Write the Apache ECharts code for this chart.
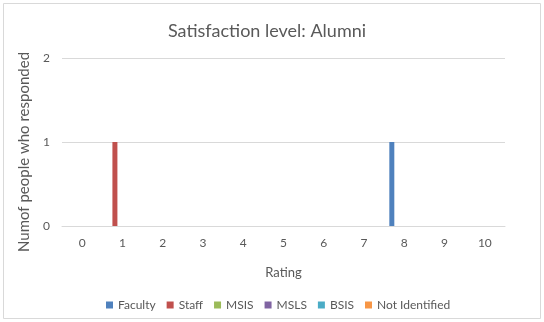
<!DOCTYPE html>
<html><head><meta charset="utf-8">
<script src="https://cdn.jsdelivr.net/npm/echarts@6/dist/echarts.min.js"></script>
<style>html,body{margin:0;padding:0;background:#fff}#c{width:544px;height:322px}</style>
</head><body><div id="c"></div>
<script>
const categories = ['0','1','2','3','4','5','6','7','8','9','10'];
const seriesNames = ['Faculty','Staff','MSIS','MSLS','BSIS','Not Identified'];
const faculty = [0,0,0,0,0,0,0,0,1,0,0];
const staff = [0,1,0,0,0,0,0,0,0,0,0];
const msis = [0,0,0,0,0,0,0,0,0,0,0];
const msls = [0,0,0,0,0,0,0,0,0,0,0];
const bsis = [0,0,0,0,0,0,0,0,0,0,0];
const notIdentified = [0,0,0,0,0,0,0,0,0,0,0];
const seriesData = [faculty, staff, msis, msls, bsis, notIdentified];
const colors = ['#4F81BD','#C0504D','#9BBB59','#8064A2','#4BACC6','#F79646'];
const font = 'Lato, "Open Sans", sans-serif';
const chart = echarts.init(document.getElementById('c'), null, {renderer:'canvas'});
chart.setOption({
  animation:false,
  color: colors,
  textStyle:{fontFamily:font},
  graphic:[
    {type:'rect',shape:{x:3.5,y:3.5,width:537,height:315},style:{fill:'none',stroke:'#d9d9d9',lineWidth:1},silent:true}
  ],
  title:{text:'Satisfaction level: Alumni',left:262,top:17,textAlign:'center',
    textStyle:{fontFamily:font,fontSize:18,fontWeight:'normal',color:'#595959'}},
  legend:{data:seriesNames,bottom:6,left:101,itemWidth:7,itemHeight:7,itemGap:11,icon:'rect',
    textStyle:{fontFamily:font,fontSize:12,color:'#595959'}},
  grid:{left:62,right:39,top:58,bottom:96,containLabel:false},
  xAxis:{type:'category',data:categories,name:'Rating',nameLocation:'middle',nameGap:40,
    nameTextStyle:{fontFamily:font,fontSize:13,color:'#595959'},
    axisLine:{lineStyle:{color:'#d9d9d9'}},axisTick:{show:false},
    axisLabel:{fontFamily:font,fontSize:12,color:'#595959',margin:11}},
  yAxis:{type:'value',min:0,max:2,interval:1,name:'Numof people who responded',nameLocation:'middle',nameGap:17,
    nameTextStyle:{fontFamily:font,fontSize:15,color:'#595959',padding:[0,20,0,0]},
    axisLine:{show:false},axisTick:{show:false},
    splitLine:{lineStyle:{color:'#d9d9d9'}},
    axisLabel:{fontFamily:font,fontSize:12,color:'#595959',margin:12}},
  series: seriesNames.map((n,i)=>({name:n,type:'bar',data:seriesData[i],barWidth:5,barGap:'0%'}))
});
</script></body></html>
